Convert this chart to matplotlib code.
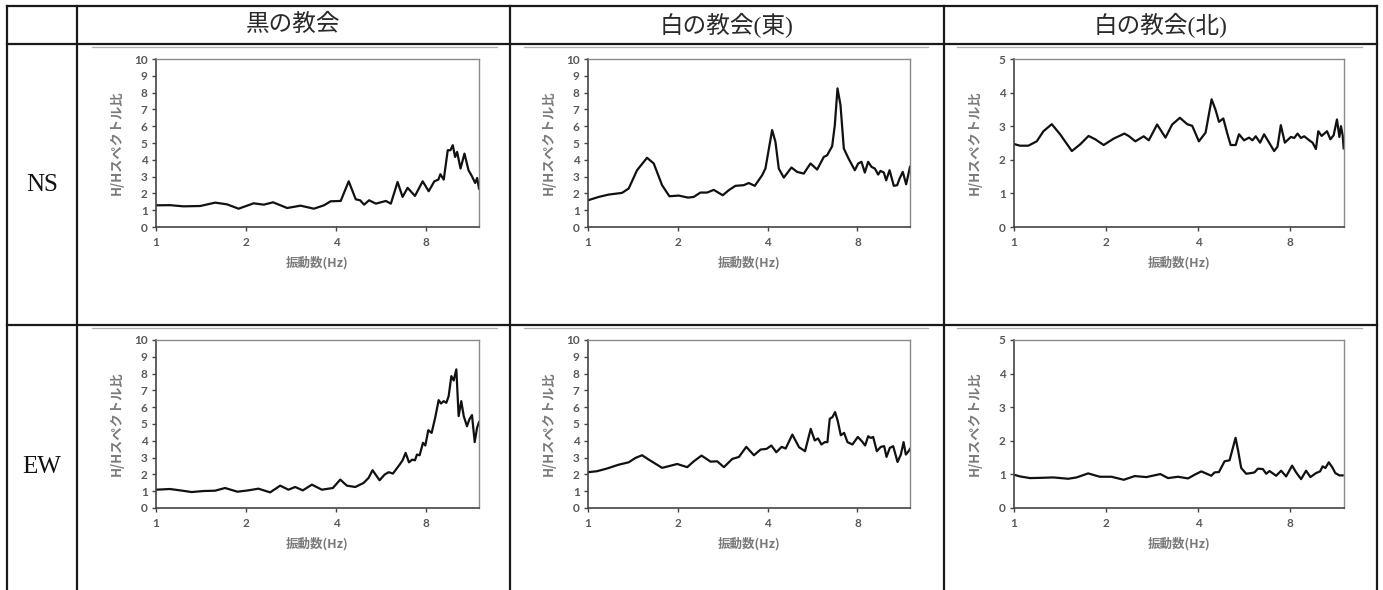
#!/usr/bin/env python3
"""H/H spectral ratio table: 2 components x 3 sites."""

import matplotlib

matplotlib.use("Agg")
import matplotlib.pyplot as plt
from matplotlib.lines import Line2D

# --- table labels ---
COLUMNS = ["黒の教会", "白の教会(東)", "白の教会(北)"]
ROWS = ["NS", "EW"]
Y_MAX = [10, 10, 5]
X_TICKS = [1, 2, 4, 8]
X_LABEL = "振動数(Hz)"
Y_LABEL = "H/Hスペクトル比"

# --- NS, 黒の教会 ---
ns_kuro_f = [1.000, 1.114, 1.235, 1.405, 1.577, 1.726, 1.888, 2.120, 2.291, 2.462,
             2.743, 3.040, 3.370, 3.640, 3.833, 4.141, 4.404, 4.649, 4.807, 4.958,
             5.152, 5.426, 5.861, 6.091, 6.414, 6.666, 6.929, 7.332, 7.780, 8.148,
             8.512, 8.779, 8.915, 9.149, 9.435, 9.632, 9.807, 9.985, 10.14, 10.41,
             10.73, 11.07, 11.35, 11.65, 11.83, 12.0]
ns_kuro_v = [1.29, 1.30, 1.23, 1.25, 1.45, 1.35, 1.09, 1.41, 1.33, 1.47,
             1.13, 1.27, 1.09, 1.29, 1.53, 1.55, 2.72, 1.65, 1.59, 1.33,
             1.59, 1.39, 1.55, 1.39, 2.68, 1.79, 2.33, 1.85, 2.72, 2.13,
             2.72, 2.82, 3.14, 2.82, 4.57, 4.57, 4.87, 4.17, 4.47, 3.48,
             4.37, 3.38, 3.04, 2.62, 2.92, 2.29]

# --- NS, 白の教会(東) ---
ns_higashi_f = [1.000, 1.086, 1.173, 1.300, 1.369, 1.460, 1.577, 1.661, 1.771, 1.874,
                2.014, 2.164, 2.261, 2.381, 2.507, 2.639, 2.829, 2.963, 3.119, 3.327,
                3.458, 3.622, 3.833, 3.932, 4.141, 4.248, 4.359, 4.531, 4.807, 5.022,
                5.287, 5.567, 5.861, 6.170, 6.331, 6.581, 6.717, 6.858, 7.018, 7.201,
                7.485, 7.839, 8.044, 8.253, 8.467, 8.688, 8.915, 9.149, 9.387, 9.558,
                9.807, 9.985, 10.25, 10.59, 10.87, 11.07, 11.35, 11.65, 12.0]
ns_higashi_v = [1.59, 1.79, 1.93, 2.03, 2.29, 3.38, 4.12, 3.78, 2.49, 1.83,
                1.87, 1.75, 1.79, 2.05, 2.05, 2.21, 1.89, 2.19, 2.45, 2.49,
                2.62, 2.45, 3.08, 3.48, 5.77, 5.07, 3.48, 2.94, 3.54, 3.28,
                3.18, 3.78, 3.42, 4.17, 4.27, 4.81, 6.06, 8.25, 7.26, 4.67,
                4.04, 3.38, 3.78, 3.88, 3.24, 3.88, 3.58, 3.48, 3.12, 3.34,
                3.24, 2.78, 3.38, 2.45, 2.49, 2.88, 3.28, 2.54, 3.58]

# --- NS, 白の教会(北) ---
ns_kita_f = [1.000, 1.046, 1.114, 1.187, 1.248, 1.329, 1.415, 1.546, 1.646, 1.753,
             1.844, 1.964, 2.118, 2.296, 2.371, 2.494, 2.656, 2.759, 2.938, 3.129,
             3.290, 3.487, 3.685, 3.827, 4.024, 4.232, 4.428, 4.564, 4.681, 4.836,
             4.984, 5.111, 5.308, 5.443, 5.653, 5.871, 6.020, 6.174, 6.379, 6.575,
             6.829, 7.091, 7.272, 7.457, 7.686, 8.042, 8.248, 8.458, 8.674, 8.894,
             9.237, 9.472, 9.713, 9.886, 10.14, 10.56, 10.83, 11.10, 11.38, 11.59,
             11.73, 11.88, 11.97]
ns_kita_v = [2.47, 2.42, 2.42, 2.55, 2.85, 3.06, 2.76, 2.26, 2.46, 2.71,
             2.61, 2.44, 2.63, 2.78, 2.71, 2.55, 2.70, 2.58, 3.05, 2.66,
             3.05, 3.25, 3.06, 3.01, 2.55, 2.81, 3.80, 3.48, 3.13, 3.23,
             2.78, 2.44, 2.44, 2.76, 2.58, 2.66, 2.58, 2.70, 2.51, 2.76,
             2.51, 2.26, 2.39, 3.03, 2.51, 2.68, 2.65, 2.78, 2.65, 2.70,
             2.58, 2.51, 2.32, 2.85, 2.71, 2.85, 2.61, 2.73, 3.20, 2.68,
             3.00, 2.73, 2.34]

# --- EW, 黒の教会 ---
ew_kuro_f = [1.000, 1.114, 1.203, 1.316, 1.440, 1.575, 1.701, 1.871, 2.036, 2.199,
             2.406, 2.599, 2.771, 2.917, 3.095, 3.317, 3.582, 3.899, 4.126, 4.343,
             4.631, 4.937, 5.131, 5.291, 5.585, 5.805, 5.987, 6.189, 6.515, 6.667,
             6.823, 7.001, 7.182, 7.332, 7.446, 7.600, 7.798, 7.939, 8.124, 8.336,
             8.574, 8.797, 8.957, 9.143, 9.332, 9.502, 9.699, 9.875, 10.08, 10.26,
             10.47, 10.67, 10.94, 11.14, 11.37, 11.61, 11.82, 12.0]
ew_kuro_v = [1.09, 1.13, 1.05, 0.95, 1.01, 1.03, 1.19, 0.97, 1.05, 1.15,
             0.93, 1.33, 1.09, 1.25, 1.05, 1.39, 1.09, 1.19, 1.69, 1.33,
             1.25, 1.49, 1.79, 2.25, 1.65, 1.99, 2.13, 2.05, 2.58, 2.84,
             3.28, 2.72, 2.88, 2.84, 3.18, 3.14, 3.88, 3.72, 4.63, 4.47,
             5.41, 6.42, 6.22, 6.36, 6.26, 6.66, 7.85, 7.59, 8.25, 5.47,
             6.36, 5.47, 4.87, 5.27, 5.53, 3.92, 4.77, 5.11]

# --- EW, 白の教会(東) ---
ew_higashi_f = [1.000, 1.072, 1.158, 1.268, 1.369, 1.442, 1.518, 1.598, 1.772, 1.866,
                1.990, 2.150, 2.263, 2.401, 2.575, 2.711, 2.854, 3.044, 3.205, 3.392,
                3.599, 3.789, 3.969, 4.115, 4.277, 4.457, 4.597, 4.840, 5.096, 5.338,
                5.578, 5.753, 5.903, 6.057, 6.215, 6.344, 6.460, 6.595, 6.732, 6.873,
                7.034, 7.217, 7.406, 7.697, 8.021, 8.273, 8.489, 8.688, 8.869, 9.030,
                9.290, 9.582, 9.832, 10.01, 10.27, 10.54, 10.90, 11.18, 11.42, 11.62,
                11.87, 12.0]
ew_higashi_v = [2.13, 2.19, 2.35, 2.58, 2.72, 2.98, 3.14, 2.88, 2.39, 2.49,
                2.62, 2.43, 2.78, 3.12, 2.76, 2.78, 2.43, 2.92, 3.04, 3.64,
                3.14, 3.48, 3.52, 3.72, 3.32, 3.64, 3.54, 4.37, 3.62, 3.38,
                4.71, 4.02, 4.14, 3.78, 3.92, 3.92, 5.31, 5.41, 5.71, 5.17,
                4.33, 4.47, 3.92, 3.78, 4.23, 3.98, 3.72, 4.27, 4.17, 4.23,
                3.38, 3.64, 3.68, 3.04, 3.58, 3.68, 2.74, 3.18, 3.92, 3.18,
                3.38, 3.52]

# --- EW, 白の教会(北) ---
ew_kita_f = [1.000, 1.046, 1.128, 1.247, 1.344, 1.504, 1.602, 1.748, 1.908, 2.083,
             2.286, 2.482, 2.710, 3.011, 3.189, 3.439, 3.707, 3.897, 4.097, 4.417,
             4.529, 4.679, 4.882, 5.069, 5.198, 5.303, 5.410, 5.534, 5.746, 5.966,
             6.117, 6.273, 6.513, 6.678, 6.848, 7.199, 7.475, 7.761, 8.119, 8.367,
             8.687, 9.019, 9.318, 9.723, 10.02, 10.22, 10.43, 10.70, 10.97, 11.24,
             11.59, 11.88]
ew_kita_v = [0.99, 0.94, 0.89, 0.90, 0.91, 0.87, 0.91, 1.03, 0.93, 0.93,
             0.84, 0.95, 0.92, 1.01, 0.89, 0.93, 0.88, 0.99, 1.09, 0.96,
             1.06, 1.07, 1.39, 1.42, 1.79, 2.09, 1.69, 1.19, 1.02, 1.04,
             1.06, 1.17, 1.16, 1.02, 1.10, 0.96, 1.11, 0.94, 1.26, 1.06,
             0.86, 1.11, 0.92, 1.04, 1.09, 1.24, 1.19, 1.36, 1.22, 1.04,
             0.97, 0.97]

CURVES = [
    [(ns_kuro_f, ns_kuro_v), (ns_higashi_f, ns_higashi_v), (ns_kita_f, ns_kita_v)],
    [(ew_kuro_f, ew_kuro_v), (ew_higashi_f, ew_higashi_v), (ew_kita_f, ew_kita_v)],
]

# --- layout (pixels, origin top-left) ---
W, H = 1383, 590
COL_LINES = [7, 77, 510, 944, 1377]
ROW_LINES = [6, 44, 325]
PLOT_X = [(156, 479), (588, 910), (1014, 1344)]
PLOT_Y = [(59, 227), (340, 508)]
FRAME_X = [(92, 497), (524, 928), (957, 1362)]
ROW_LABEL_Y = [185, 467]

CJK = ["Noto Sans CJK JP", "DejaVu Sans"]
TICK_FONT = ["Lato", "DejaVu Sans"]
SERIF_CJK = ["Liberation Serif", "Noto Sans CJK JP"]


def px_rect(x0, x1, y0, y1):
    return [x0 / W, 1 - y1 / H, (x1 - x0) / W, (y1 - y0) / H]


fig = plt.figure(figsize=(W / 100, H / 100), dpi=100)
fig.patch.set_facecolor("white")

# background layer for the table grid
bg = fig.add_axes([0, 0, 1, 1])
bg.set_xlim(0, W)
bg.set_ylim(H, 0)
bg.axis("off")
for y in ROW_LINES:
    bg.add_line(Line2D([COL_LINES[0], COL_LINES[-1]], [y, y], color="#1a1a1a", lw=1.6))
for x in COL_LINES:
    bg.add_line(Line2D([x, x], [ROW_LINES[0], H], color="#1a1a1a", lw=1.6))

# header & row labels
for j, name in enumerate(COLUMNS):
    cx = (COL_LINES[j + 1] + COL_LINES[j + 2]) / 2
    bg.text(cx, 25, name, ha="center", va="center", fontsize=17,
            family=SERIF_CJK, color="#2a2a2a")
for i, name in enumerate(ROWS):
    bg.text((COL_LINES[0] + COL_LINES[1]) / 2, ROW_LABEL_Y[i], name, ha="center",
            va="center", fontsize=18, family="Liberation Serif", color="#111111")

for i in range(2):
    # thin grey top edge of each chart object
    for j in range(3):
        fx0, fx1 = FRAME_X[j]
        bg.add_line(Line2D([fx0, fx1], [ROW_LINES[i + 1] + 2.5] * 2, color="#b0b0b0", lw=0.9))

    for j in range(3):
        x0, x1 = PLOT_X[j]
        y0, y1 = PLOT_Y[i]
        ax = fig.add_axes(px_rect(x0, x1, y0, y1))
        f, v = CURVES[i][j]
        ax.plot(f, v, color="#111111", lw=1.6, solid_joinstyle="round")
        ax.set_xscale("log", base=2)
        ax.set_xlim(1, 12)
        ax.set_ylim(0, Y_MAX[j])
        ax.set_xticks(X_TICKS)
        ax.set_xticklabels([str(t) for t in X_TICKS])
        ax.xaxis.set_minor_locator(plt.NullLocator())
        ax.set_yticks(range(0, Y_MAX[j] + 1))
        ax.tick_params(direction="out", length=3, width=1, color="#444444",
                       labelsize=8.5, labelcolor="#595959")
        ax.tick_params(axis="x", pad=4)
        ax.tick_params(axis="y", pad=3)
        for lab in ax.get_xticklabels() + ax.get_yticklabels():
            lab.set_family(TICK_FONT)
            lab.set_fontweight("bold")
        for side in ("top", "right"):
            ax.spines[side].set_color("#8a8a8a")
            ax.spines[side].set_linewidth(1.0)
        for side in ("left", "bottom"):
            ax.spines[side].set_color("#444444")
            ax.spines[side].set_linewidth(1.2)

        wpx, hpx = x1 - x0, y1 - y0
        ax.text(0.5, -36 / hpx, X_LABEL, transform=ax.transAxes, ha="center",
                va="center", fontsize=9, fontweight="bold", family=CJK, color="#7a7a7a")
        ax.text(-39 / wpx, 0.5, Y_LABEL, transform=ax.transAxes, ha="center",
                va="center", rotation=90, fontsize=9.5, fontweight="bold",
                family=CJK, color="#7a7a7a")

fig.savefig("out.png", dpi=100, facecolor="white")
